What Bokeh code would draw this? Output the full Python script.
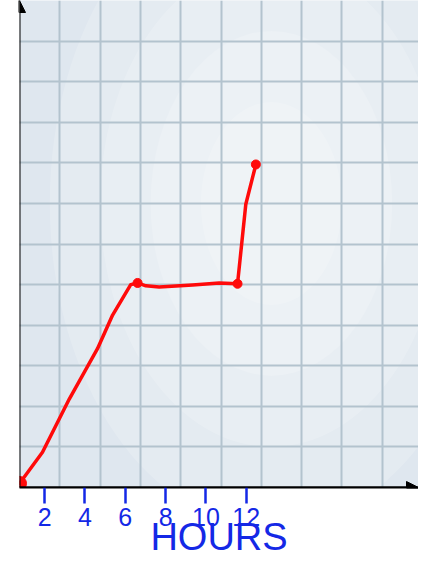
from bokeh.plotting import figure
from bokeh.models import Range1d, LinearAxis, FixedTicker, Arrow, NormalHead, Grid
from bokeh.embed import file_html
from bokeh.resources import INLINE

# hand-drawn red trace (hours, level in grid units)
hours = [0.0, 1.14, 1.97, 2.47, 3.87, 4.62, 5.52, 5.86, 6.27, 6.93, 8.59, 9.91, 10.82, 11.23, 11.73]
level = [0.1, 0.87, 1.69, 2.18, 3.42, 4.25, 5.0, 5.04, 4.97, 4.94, 4.99, 5.04, 5.02, 6.98, 7.96]
marker_hours = [5.86, 10.82, 11.73]
marker_level = [5.04, 5.02, 7.96]
start_hours = [0.0]
start_level = [0.1]

tick_hours = [2, 4, 6, 8, 10, 12]
tick_labels = ["2", "4", "6", "8", "10", "12"]
grid_x = [0, 2, 4, 6, 8, 10, 12, 14, 16, 18]
grid_y = [0, 1, 2, 3, 4, 5, 6, 7, 8, 9, 10, 11, 12]
X_MAX = 19.8
Y_MAX = 12
LABEL_SHIFT = 0.75   # hand-written ticks/labels sit slightly left of the grid lines

BLUE = "#1428e6"
RED = "#ff0a0a"

p = figure(width=418, height=560, x_range=Range1d(0, X_MAX), y_range=Range1d(0, Y_MAX),
           output_backend="svg", toolbar_location=None,
           x_axis_location=None, y_axis_location=None,
           min_border_left=19, min_border_right=0, min_border_top=0, min_border_bottom=0,
           background_fill_color="#dfe7ef", border_fill_color="white", outline_line_color=None)

# soft radial glow of the paper
glow = p.ellipse(x=[12.5] * 4, y=[7.0] * 4, width=[22, 17, 12, 7], height=[16, 12, 8.5, 5],
                 fill_color="white", fill_alpha=0.17, line_color=None)
glow.level = "image"

if len(p.xgrid) == 0:
    p.add_layout(Grid(dimension=0))
if len(p.ygrid) == 0:
    p.add_layout(Grid(dimension=1))
p.xgrid.ticker = FixedTicker(ticks=grid_x)
p.ygrid.ticker = FixedTicker(ticks=grid_y)
for g in (p.xgrid, p.ygrid):
    g.grid_line_color = "#b3c3ce"
    g.grid_line_width = 2

p.extra_x_ranges = {"lab": Range1d(0 + LABEL_SHIFT, X_MAX + LABEL_SHIFT)}
lab = LinearAxis(x_range_name="lab", ticker=FixedTicker(ticks=tick_hours),
                 major_label_overrides={t: s for t, s in zip(tick_hours, tick_labels)},
                 axis_line_color="black", axis_line_width=2,
                 major_tick_line_color=BLUE, major_tick_line_width=2.5,
                 minor_tick_line_color=None,
                 major_tick_in=0, major_tick_out=16, major_label_standoff=4,
                 major_label_text_color=BLUE, major_label_text_font_size="25px",
                 major_label_text_font="Liberation Sans",
                 axis_label="HOURS", axis_label_text_color=BLUE,
                 axis_label_text_font_size="38px", axis_label_text_font="Liberation Sans",
                 axis_label_text_font_style="normal", axis_label_standoff=-13)
p.add_layout(lab, "below")

p.add_layout(Arrow(x_start=0, y_start=0, x_end=X_MAX, y_end=0, line_color="black", line_width=2,
                   end=NormalHead(size=12, fill_color="black", line_color="black")))
p.add_layout(Arrow(x_start=0, y_start=0, x_end=0, y_end=Y_MAX, line_color="black", line_width=2,
                   end=NormalHead(size=12, fill_color="black", line_color="black")))

p.line(hours, level, color=RED, line_width=3.5, line_join="round", line_cap="round")
p.scatter(marker_hours, marker_level, size=9, color=RED)
p.scatter(start_hours, start_level, size=14, color=RED)

open("out.html", "w").write(file_html(p, INLINE))
